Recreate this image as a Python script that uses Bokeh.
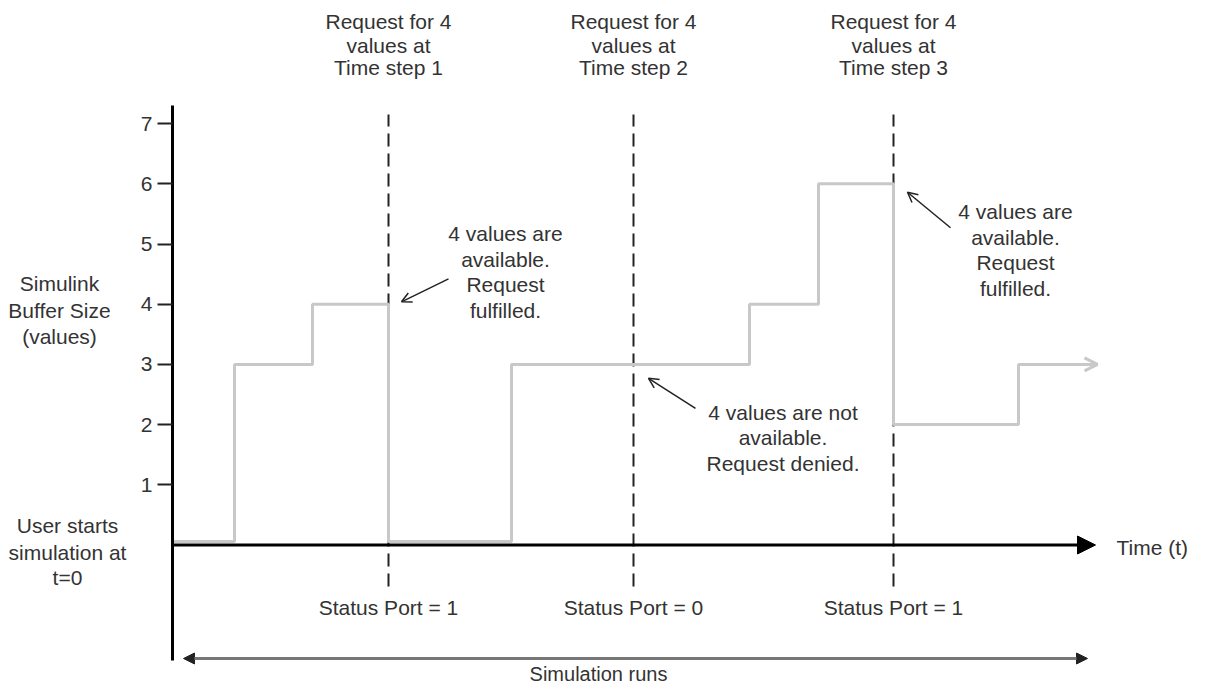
from bokeh.plotting import figure
from bokeh.models import LinearAxis, FixedTicker, Arrow, NormalHead, OpenHead, Range1d
from bokeh.core.properties import value
from bokeh.embed import file_html
from bokeh.resources import INLINE

# ---------------- data ----------------
# Simulink buffer size (values) as a step function of time (arbitrary time units)
step_time = [0, 2.48, 5.6, 8.64, 13.56, 23.08, 25.84, 28.84, 33.84, 36.8]
buffer_size = [0.06, 3, 4, 0.06, 3, 4, 6, 2, 3, 3]

# request instants (time steps 1, 2, 3) and resulting status port values
request_time = [8.64, 18.44, 28.84]
request_step = ["1", "2", "3"]
status_port = [1, 0, 1]

y_ticks = [1, 2, 3, 4, 5, 6, 7]

# annotation callouts: text lines, anchor, arrow tail/tip
callout_lines = [
    ["4 values are", "available.", "Request", "fulfilled."],
    ["4 values are not", "available.", "Request denied."],
    ["4 values are", "available.", "Request", "fulfilled."],
]
callout_x = [13.32, 24.42, 33.72]
callout_top_y = [5.175, 2.205, 5.535]
arrow_tail = [(11.04, 4.42), (20.92, 2.27), (31.12, 5.27)]
arrow_tip = [(9.16, 4.04), (19.04, 2.77), (29.4, 5.86)]

FONT = value("Liberation Sans")
TXT = "#333333"
FS = "21px"

p = figure(width=1189, height=684,
           x_range=Range1d(-6.88, 40.68), y_range=Range1d(-2.317, 9.045),
           output_backend="svg", toolbar_location=None,
           x_axis_location=None, y_axis_location=None,
           min_border=0, outline_line_color=None)
p.grid.grid_line_color = None
p.background_fill_color = "white"

# dashed request lines
p.segment(x0=request_time, y0=[-0.69] * 3, x1=request_time, y1=[7.15] * 3,
          line_color="#222222", line_width=2, line_dash="13 7")

# buffer step line
p.step(step_time, buffer_size, mode="after", line_color="#c8c8c8", line_width=3)
p.add_layout(Arrow(end=OpenHead(size=13, line_color="#c8c8c8", line_width=3),
                   x_start=step_time[-2], y_start=buffer_size[-1],
                   x_end=37.0, y_end=buffer_size[-1],
                   line_color="#c8c8c8", line_width=3))

# time axis
p.add_layout(Arrow(end=NormalHead(size=18, fill_color="black", line_color="black"),
                   x_start=0, y_start=0, x_end=36.92, y_end=0,
                   line_color="black", line_width=3))

# y axis (buffer size)
yaxis = LinearAxis(fixed_location=0, ticker=FixedTicker(ticks=y_ticks),
                   bounds=(-1.92, 7.3),
                   axis_line_color="black", axis_line_width=3,
                   major_tick_out=15, major_tick_in=0,
                   major_tick_line_color="#222222", major_tick_line_width=2,
                   minor_tick_line_color=None,
                   major_label_standoff=5,
                   major_label_text_font="Liberation Sans",
                   major_label_text_font_size=FS,
                   major_label_text_color=TXT)
p.add_layout(yaxis, "left")

# simulation runs double arrow
p.add_layout(Arrow(start=NormalHead(size=11, fill_color="#222222", line_color="#222222"),
                   end=NormalHead(size=11, fill_color="#222222", line_color="#222222"),
                   x_start=0.44, y_start=-1.885, x_end=36.6, y_end=-1.885,
                   line_color="#777777", line_width=3))

def txt(xs, ys, texts, align="center", fs=FS):
    p.text(x=xs, y=ys, text=texts, text_align=align, text_baseline="middle",
           text_font=FONT, text_font_size=fs, text_color=TXT)

# top request labels
for i, t in enumerate(request_time):
    lines = ["Request for 4", "values at", "Time step " + request_step[i]]
    txt([t] * 3, [8.704, 8.297, 7.932], lines)

# status port labels
txt(request_time, [-1.04] * 3, ["Status Port = %d" % s for s in status_port])

# callouts
for lines, cx, ty, tail, tip in zip(callout_lines, callout_x, callout_top_y, arrow_tail, arrow_tip):
    ys = [ty - 0.424 * k for k in range(len(lines))]
    txt([cx] * len(lines), ys, lines)
    p.add_layout(Arrow(end=OpenHead(size=10, line_color="#222222", line_width=1.5),
                       x_start=tail[0], y_start=tail[1], x_end=tip[0], y_end=tip[1],
                       line_color="#222222", line_width=1.5))

# left side labels
txt([-4.52] * 3, [4.344, 3.895, 3.463], ["Simulink", "Buffer Size", "(values)"])
txt([-4.20] * 3, [0.323, -0.125, -0.540], ["User starts", "simulation at", "t=0"])

# time label and simulation runs
txt([37.76], [-0.04], ["Time (t)"], align="left")
txt([17.04], [-2.15], ["Simulation runs"], fs="20px")

open("out.html", "w").write(file_html(p, INLINE))
